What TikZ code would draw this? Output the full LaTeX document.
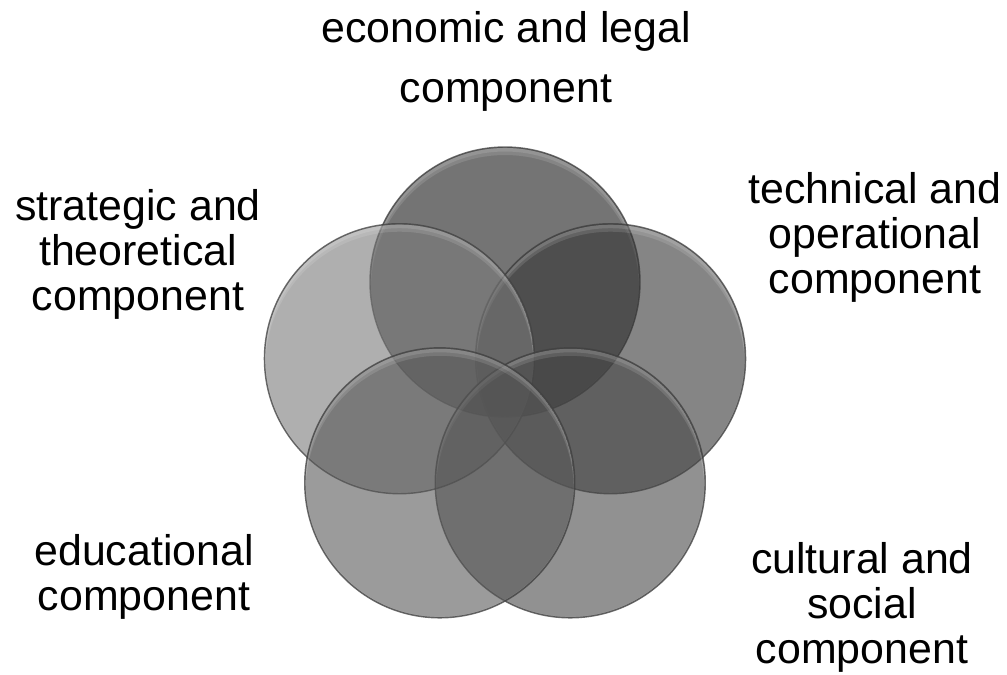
\documentclass[tikz,border=0pt]{standalone}
\usepackage{fontspec}
\setmainfont{Liberation Sans}
\usepackage{tikz}
\usetikzlibrary{calc}

\begin{document}
\begin{tikzpicture}[x=1cm,y=1cm,
  lbl/.style={font=\fontsize{12.2}{12.8}\selectfont,align=center,inner sep=0pt,anchor=north}]
  \useasboundingbox (0,0) rectangle (10.07,-6.74);
  % 5つの円：上→右→左→右下→左下の順に半透明で重ねる(\gvは塗りの灰色の値)
  \foreach \name/\ang/\gv in {eco/90/24, tech/18/52, strat/162/122, cult/-54/72, edu/234/88}{
    \definecolor{ringfill}{RGB}{\gv,\gv,\gv}
    \path (5.05,-3.93) ++(\ang:1.11) coordinate (\name);
    \fill[ringfill,fill opacity=0.6] (\name) circle (1.35);
    % 上側の縁の明るい三日月(ベベル風)
    \begin{scope}
      \clip (\name) circle (1.34);
      \fill[white,opacity=0.12,even odd rule] (\name) circle (1.34) ($(\name)+(0,-0.07)$) circle (1.34);
      \fill[white,opacity=0.12,even odd rule] (\name) circle (1.34) ($(\name)+(0,-0.035)$) circle (1.34);
    \end{scope}
    \draw[black!75,opacity=0.75,line width=0.4pt] (\name) circle (1.35);
  }
  % 各成分のラベル
  \node[lbl] (ecolbl) at (5.06,-0.11) {economic and legal\\[4.2pt]component};
  \node[lbl] (techlbl) at (8.75,-1.72) {technical and\\operational\\component};
  \node[lbl] (stratlbl) at (1.38,-1.89) {strategic and\\theoretical\\component};
  \node[lbl] (edulbl) at (1.44,-5.34) {educational\\component};
  \node[lbl] (cultlbl) at (8.62,-5.42) {cultural and\\social\\component};
\end{tikzpicture}
\end{document}
